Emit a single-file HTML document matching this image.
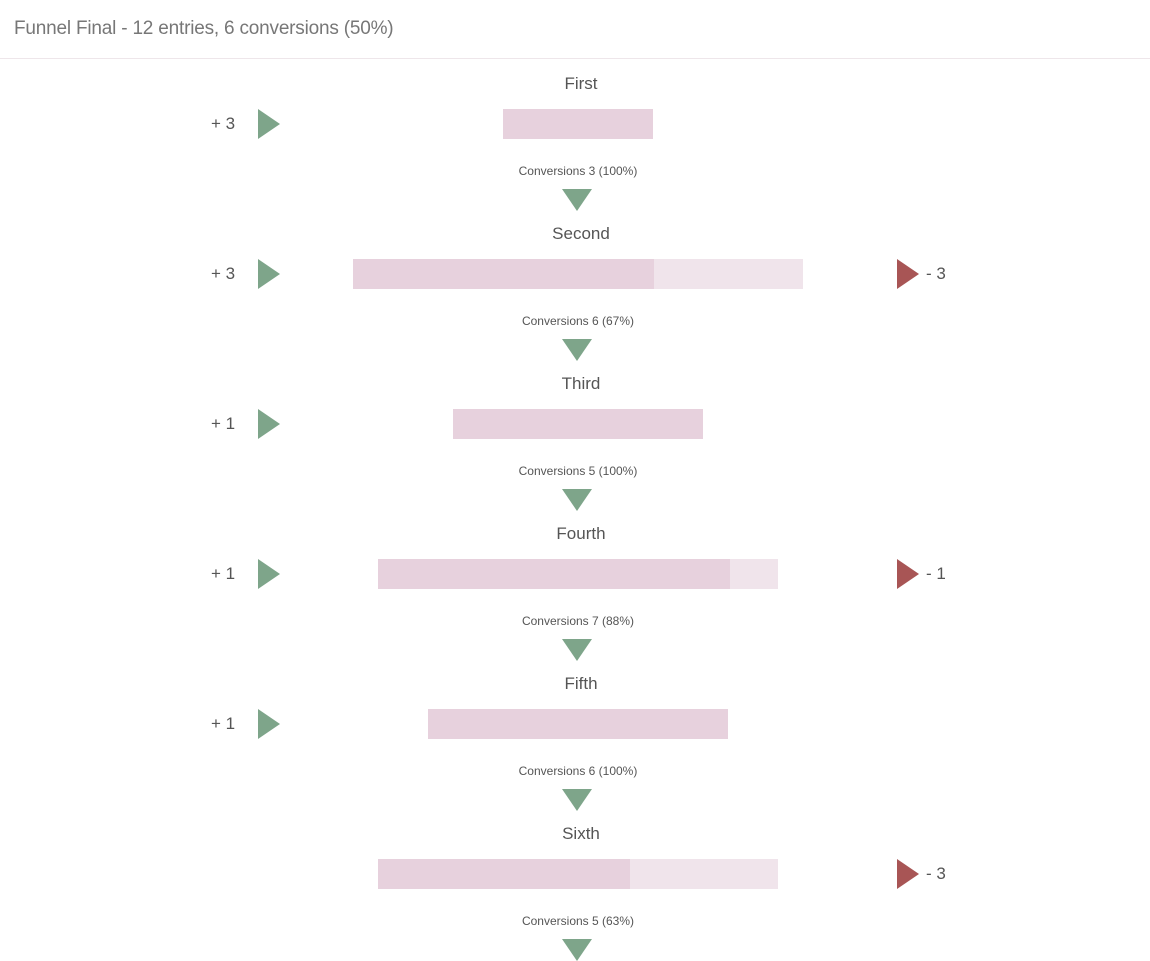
<!DOCTYPE html>
<html><head><meta charset="utf-8"><style>
body{margin:0;width:1150px;height:947px;overflow:hidden;background:#fff;font-family:"Liberation Sans",sans-serif;color:#555;position:relative}
.hdr{position:absolute;left:14px;top:18px;font-size:19px;color:#777;font-weight:300;letter-spacing:-0.2px}
.line{position:absolute;left:0;top:58px;width:1150px;height:1px;background:#eee6ea}
.t{position:absolute;width:300px;left:431px;text-align:center;font-size:17px;color:#555}
.c{position:absolute;width:300px;left:428px;text-align:center;font-size:12px;color:#555}
.b{position:absolute;height:30px;background:#e7d1dd}
.l{position:absolute;height:30px;background:#f0e4eb}
.gr{position:absolute;width:0;height:0;border-top:15px solid transparent;border-bottom:15px solid transparent;border-left:22px solid #7ea58a}
.rr{position:absolute;width:0;height:0;border-top:15px solid transparent;border-bottom:15px solid transparent;border-left:22px solid #a85555}
.dn{position:absolute;left:562px;width:0;height:0;border-left:15px solid transparent;border-right:15px solid transparent;border-top:22px solid #7ea58a}
.n{position:absolute;font-size:17px;color:#555}
</style></head><body>
<div class="hdr">Funnel Final - 12 entries, 6 conversions (50%)</div>
<div class="line"></div>

<div class="t" style="top:74px">First</div>
<div class="n" style="left:211px;top:114px">+ 3</div><div class="gr" style="left:258px;top:109px"></div>
<div class="b" style="left:503px;width:150px;top:109px"></div>
<div class="c" style="top:164px">Conversions 3 (100%)</div>
<div class="dn" style="top:189px"></div>

<div class="t" style="top:224px">Second</div>
<div class="n" style="left:211px;top:264px">+ 3</div><div class="gr" style="left:258px;top:259px"></div>
<div class="b" style="left:353px;width:301px;top:259px"></div><div class="l" style="left:654px;width:149px;top:259px"></div>
<div class="rr" style="left:897px;top:259px"></div><div class="n" style="left:926px;top:264px">- 3</div>
<div class="c" style="top:314px">Conversions 6 (67%)</div>
<div class="dn" style="top:339px"></div>

<div class="t" style="top:374px">Third</div>
<div class="n" style="left:211px;top:414px">+ 1</div><div class="gr" style="left:258px;top:409px"></div>
<div class="b" style="left:453px;width:250px;top:409px"></div>
<div class="c" style="top:464px">Conversions 5 (100%)</div>
<div class="dn" style="top:489px"></div>

<div class="t" style="top:524px">Fourth</div>
<div class="n" style="left:211px;top:564px">+ 1</div><div class="gr" style="left:258px;top:559px"></div>
<div class="b" style="left:378px;width:352px;top:559px"></div><div class="l" style="left:730px;width:48px;top:559px"></div>
<div class="rr" style="left:897px;top:559px"></div><div class="n" style="left:926px;top:564px">- 1</div>
<div class="c" style="top:614px">Conversions 7 (88%)</div>
<div class="dn" style="top:639px"></div>

<div class="t" style="top:674px">Fifth</div>
<div class="n" style="left:211px;top:714px">+ 1</div><div class="gr" style="left:258px;top:709px"></div>
<div class="b" style="left:428px;width:300px;top:709px"></div>
<div class="c" style="top:764px">Conversions 6 (100%)</div>
<div class="dn" style="top:789px"></div>

<div class="t" style="top:824px">Sixth</div>
<div class="b" style="left:378px;width:252px;top:859px"></div><div class="l" style="left:630px;width:148px;top:859px"></div>
<div class="rr" style="left:897px;top:859px"></div><div class="n" style="left:926px;top:864px">- 3</div>
<div class="c" style="top:914px">Conversions 5 (63%)</div>
<div class="dn" style="top:939px"></div>
</body></html>
